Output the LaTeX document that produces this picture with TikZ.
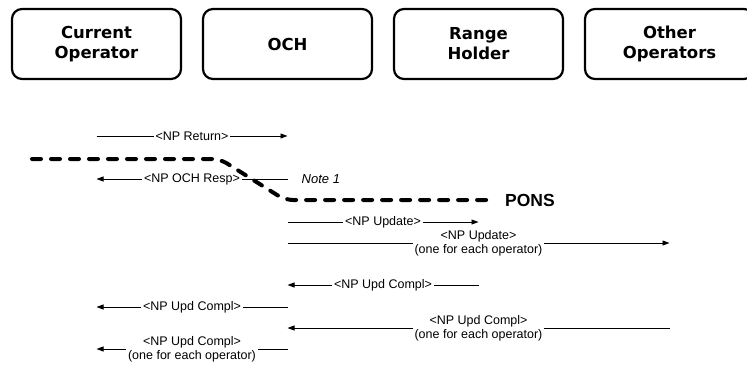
\documentclass[tikz,border=0pt]{standalone}
\usepackage{fontspec}
\setmainfont{Liberation Sans}
\newfontfamily\boxfont{DejaVu Sans}
\usetikzlibrary{positioning, arrows.meta}

\begin{document}
\begin{tikzpicture}[x=1pt, y=-1pt, node distance=22pt,
	actor/.style={draw, line width=2.2pt, outer sep=0pt, rounded corners=10pt, minimum width=169pt, minimum height=70pt, align=center, font=\boxfont\bfseries\fontsize{16.5}{20}\selectfont},
	msg/.style={-{Triangle[length=7pt,width=5pt]}, line width=0.9pt},
	lbl/.style={fill=white, inner xsep=2pt, inner ysep=1pt, align=center, font=\fontsize{12.5}{14}\selectfont},
	pons/.style={line width=4pt, dash pattern=on 9pt off 10pt, line cap=round, rounded corners=8pt}]

		\useasboundingbox (0,0) rectangle (747,365);

		% nodes - the four parties %
		\node[actor] (cur) at (96.5,44) {Current\\Operator};
		\node[actor, right = of cur] (och) {OCH};
		\node[actor, right = of och] (rh) {Range\\Holder};
		\node[actor, right = of rh] (oth) {Other\\Operators};

		% message end points %
		\coordinate (ret-a) at (cur |- 0,136);
		\coordinate (ret-b) at (och |- 0,136);
		\coordinate (resp-a) at (och |- 0,179);
		\coordinate (resp-b) at (cur |- 0,179);
		\coordinate (upd-a) at (och |- 0,222);
		\coordinate (upd-b) at (rh |- 0,222);
		\coordinate (updall-a) at (och |- 0,243);
		\coordinate (updall-b) at (oth |- 0,243);
		\coordinate (cpl-a) at (rh |- 0,285);
		\coordinate (cpl-b) at (och |- 0,285);
		\coordinate (cplcur-a) at (och |- 0,307);
		\coordinate (cplcur-b) at (cur |- 0,307);
		\coordinate (cplall-a) at (oth |- 0,328);
		\coordinate (cplall-b) at (och |- 0,328);
		\coordinate (cplfwd-a) at (och |- 0,349);
		\coordinate (cplfwd-b) at (cur |- 0,349);

		% edges %
		\draw[msg] (ret-a) -- node[lbl] (retlbl) {<NP Return>} (ret-b);
		\draw[msg] (resp-a) -- node[lbl] (resplbl) {<NP OCH Resp>} (resp-b);
		\draw[msg] (upd-a) -- node[lbl] (updlbl) {<NP Update>} (upd-b);
		\draw[msg] (updall-a) -- node[lbl] (updalllbl) {<NP Update>\\(one for each operator)} (updall-b);
		\draw[msg] (cpl-a) -- node[lbl] (cpllbl) {<NP Upd Compl>} (cpl-b);
		\draw[msg] (cplcur-a) -- node[lbl] (cplcurlbl) {<NP Upd Compl>} (cplcur-b);
		\draw[msg] (cplall-a) -- node[lbl] (cplalllbl) {<NP Upd Compl>\\(one for each operator)} (cplall-b);
		\draw[msg] (cplfwd-a) -- node[lbl] (cplfwdlbl) {<NP Upd Compl>\\(one for each operator)} (cplfwd-b);

		\node[right = 14pt of resp-a, inner sep=0, font=\itshape\fontsize{13}{15}\selectfont] (note) {Note 1};

		% point of no return %
		\coordinate (pons-a) at (32,159);
		\coordinate (pons-b) at (220,159);
		\coordinate (pons-c) at (285,200);
		\coordinate (pons-d) at (495,200);
		\draw[pons] (pons-a) -- (pons-b) -- (pons-c) -- (pons-d);
		\node[right = 10pt of pons-d, inner sep=0, font=\bfseries\fontsize{17.5}{20}\selectfont] (ponslbl) {PONS};
\end{tikzpicture}
\end{document}
